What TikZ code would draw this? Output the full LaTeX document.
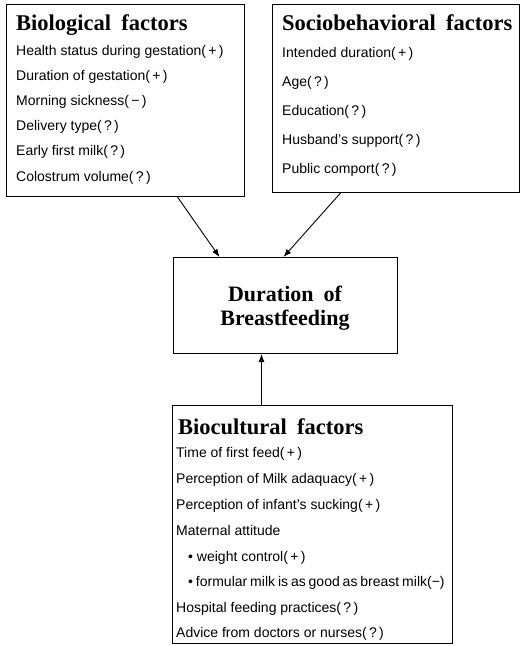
\documentclass[tikz,border=0pt]{standalone}
\usepackage{fontspec}
\setmainfont{Liberation Serif}
\newfontfamily\itemfamily{Liberation Sans}
\usetikzlibrary{arrows.meta}
\begin{document}
\begin{tikzpicture}[x=1pt,y=-1pt,
  box/.style={draw,line width=1pt,inner sep=0pt,anchor=north west},
  ttl/.style={anchor=base west,inner sep=0pt,font={\fontsize{22.5}{24}\selectfont\bfseries\spaceskip=0.45em\relax}},
  itm/.style={anchor=base west,inner sep=0pt,font={\itemfamily\fontsize{14}{16}\selectfont}},
  arr/.style={line width=0.9pt,-{Latex[length=8pt,width=6pt]}}]
\useasboundingbox (0,0) rectangle (521,646);

% boxes
\node[box,minimum width=238pt,minimum height=192pt] (bio) at (6,4) {};
\node[box,minimum width=247pt,minimum height=188pt] (soc) at (272,4) {};
\node[box,minimum width=224pt,minimum height=96pt] (dur) at (173,257) {};
\node[box,minimum width=280pt,minimum height=238pt] (bioc) at (172,405) {};

% Biological
\node[ttl] (t1) at (16,30) {Biological factors};
\node[itm] (b1) at (16,55) {Health status during gestation(\,+\,)};
\node[itm] (b2) at (16,80) {Duration of gestation(\,+\,)};
\node[itm] (b3) at (16,105) {Morning sickness(\,−\,)};
\node[itm] (b4) at (16,130) {Delivery type(\,?\,)};
\node[itm] (b5) at (16,155) {Early first milk(\,?\,)};
\node[itm] (b6) at (16,181) {Colostrum volume(\,?\,)};

% Sociobehavioral
\node[ttl] (t2) at (282,30) {Sociobehavioral factors};
\node[itm] (s1) at (282,57) {Intended duration(\,+\,)};
\node[itm] (s2) at (282,86) {Age(\,?\,)};
\node[itm] (s3) at (282,115) {Education(\,?\,)};
\node[itm] (s4) at (282,144) {Husband’s support(\,?\,)};
\node[itm] (s5) at (282,173) {Public comport(\,?\,)};

% Duration
\node[align=center,inner sep=0pt,font={\fontsize{22}{24}\selectfont\bfseries\spaceskip=0.45em\relax}] (dt) at (285,308) {Duration of\\Breastfeeding};

% Biocultural
\node[ttl] (t3) at (178,434) {Biocultural factors};
\node[itm] (c1) at (176,457) {Time of first feed(\,+\,)};
\node[itm] (c2) at (176,483) {Perception of Milk adaquacy(\,+\,)};
\node[itm] (c3) at (176,509) {Perception of infant’s sucking(\,+\,)};
\node[itm] (c4) at (176,535) {Maternal attitude};
\node[itm] (c5) at (188,561) {• weight control(\,+\,)};
\node[itm,font={\itemfamily\fontsize{14}{16}\selectfont\spaceskip=2.9pt\relax}] (c6) at (188,586) {• formular milk is as good as breast milk(−)};
\node[itm] (c7) at (176,612) {Hospital feeding practices(\,?\,)};
\node[itm] (c8) at (176,637) {Advice from doctors or nurses(\,?\,)};

% connectors
\draw[arr] ([xshift=52pt]bio.south) -- ([xshift=-66pt]dur.north);
\draw[arr] ([xshift=-55.5pt]soc.south) -- ([xshift=-2pt]dur.north);
\draw[arr] ([xshift=-51pt]bioc.north) -- ([xshift=-24pt]dur.south);
\end{tikzpicture}
\end{document}
